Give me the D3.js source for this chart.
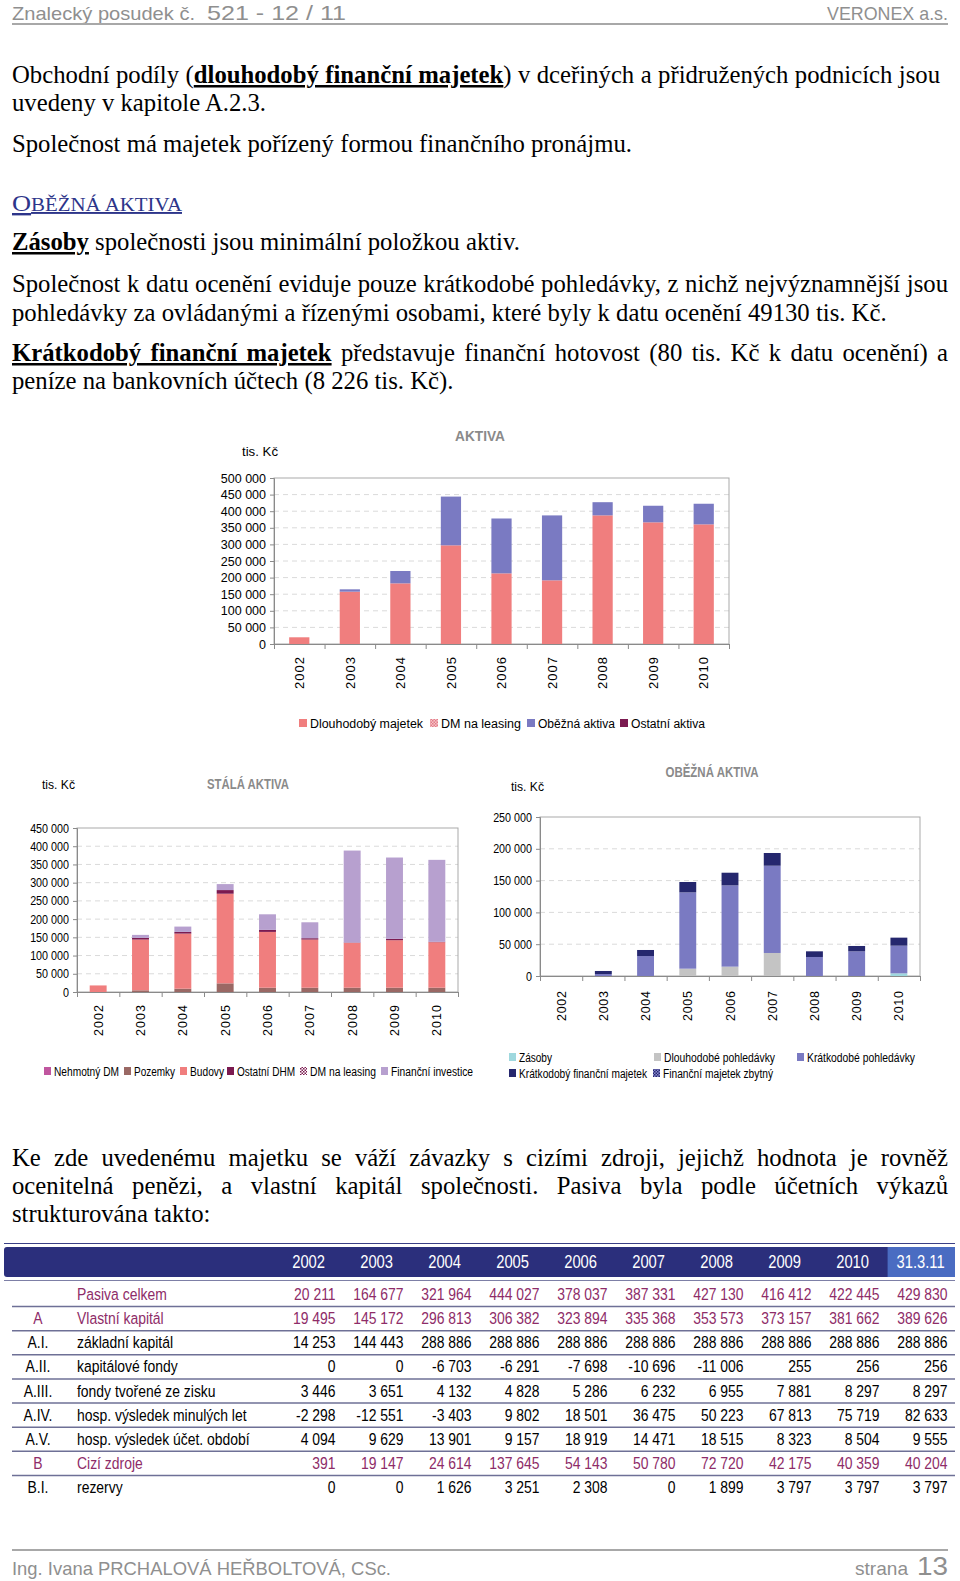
<!DOCTYPE html>
<html><head><meta charset="utf-8">
<script src="https://cdn.jsdelivr.net/npm/d3@7"></script>
<style>body{margin:0;background:#fff}svg{display:block}</style>
</head><body>
<svg id="page" width="960" height="1581"></svg>
<script>
// ---------------- DATA ----------------
const years = ["2002","2003","2004","2005","2006","2007","2008","2009","2010"];

// AKTIVA (tis. Kč)
const aktivaKeys = ["Dlouhodobý majetek","DM na leasing","Oběžná aktiva","Ostatní aktiva"];
const aktivaDlouhodobyMajetek = [20211,157600,182700,297200,212800,191800,387500,366500,360400];
const aktivaDMLeasing         = [0,0,0,0,0,0,0,0,0];
const aktivaObeznaAktiva      = [0,7077,37200,146827,165237,195531,39630,49912,62045];
const aktivaOstatniAktiva     = [0,0,0,0,0,0,0,0,0];
const aktivaTicks = [0,50000,100000,150000,200000,250000,300000,350000,400000,450000,500000];

// STÁLÁ AKTIVA
const stalaKeys = ["Nehmotný DM","Pozemky","Budovy","Ostatní DHM","DM na leasing","Finanční investice"];
const stalaNehmotnyDM   = [0,0,0,0,0,0,0,0,0];
const stalaPozemky      = [0,4600,9100,23700,11800,11800,11800,11800,11800];
const stalaBudovy       = [18000,139300,151200,246000,153100,132100,123000,130300,124900];
const stalaOstatniDHM   = [0,4600,4600,10000,5500,3700,1000,3700,1000];
const stalaDMLeasing    = [0,0,0,0,0,0,0,0,0];
const stalaFinInvestice = [0,8200,14600,16400,42800,43700,252300,223200,224900];
const stalaTicks = [0,50000,100000,150000,200000,250000,300000,350000,400000,450000];

// OBĚŽNÁ AKTIVA
const obeznaKeys = ["Zásoby","Dlouhodobé pohledávky","Krátkodobé pohledávky","Krátkodobý finanční majetek","Finanční majetek zbytný"];
const obeznaZasoby     = [0,0,0,0,0,0,0,0,4200];
const obeznaDlouhPohl  = [0,0,0,11500,14700,36200,0,0,0];
const obeznaKratkPohl  = [0,3100,31400,120000,127800,137200,29900,38800,43500];
const obeznaKFM        = [0,4800,9500,16300,19900,20000,8900,8400,12600];
const obeznaZbytny     = [0,0,0,0,0,0,0,0,0];
const obeznaTicks = [0,50000,100000,150000,200000,250000];

// PASIVA table
const tableCols = ["2002","2003","2004","2005","2006","2007","2008","2009","2010","31.3.11"];
const rowCodes  = ["","A","A.I.","A.II.","A.III.","A.IV.","A.V.","B","B.I."];
const rowLabels = ["Pasiva celkem","Vlastní kapitál","základní kapitál","kapitálové fondy","fondy tvořené ze zisku","hosp. výsledek minulých let","hosp. výsledek účet. období","Cizí zdroje","rezervy"];
const pasivaCelkem     = [20211,164677,321964,444027,378037,387331,427130,416412,422445,429830];
const vlastniKapital   = [19495,145172,296813,306382,323894,335368,353573,373157,381662,389626];
const zakladniKapital  = [14253,144443,288886,288886,288886,288886,288886,288886,288886,288886];
const kapitaloveFondy  = [0,0,-6703,-6291,-7698,-10696,-11006,255,256,256];
const fondyZeZisku     = [3446,3651,4132,4828,5286,6232,6955,7881,8297,8297];
const hvMinulychLet    = [-2298,-12551,-3403,9802,18501,36475,50223,67813,75719,82633];
const hvUcetObdobi     = [4094,9629,13901,9157,18919,14471,18515,8323,8504,9555];
const ciziZdroje       = [391,19147,24614,137645,54143,50780,72720,42175,40359,40204];
const rezervy          = [0,0,1626,3251,2308,0,1899,3797,3797,3797];
const highlightRows    = [true,true,false,false,false,false,false,true,false];

// ---------------- HELPERS ----------------
const SANS = "'Liberation Sans', Arial, sans-serif";
const SERIF = "'Liberation Serif', 'Times New Roman', serif";
const loc = d3.formatLocale({decimal:",", thousands:"\u00a0", grouping:[3], currency:["",""], minus:"-"});
const fmt = loc.format(",d");
const svg = d3.select("#page");
svg.append("rect").attr("width",960).attr("height",1581).attr("fill","#fff");

const defs = svg.append("defs");
function pat(id, bg, fg){
  const p = defs.append("pattern").attr("id",id).attr("width",3).attr("height",3).attr("patternUnits","userSpaceOnUse");
  p.append("rect").attr("width",3).attr("height",3).attr("fill",bg);
  p.append("rect").attr("width",1.5).attr("height",1.5).attr("fill",fg);
  p.append("rect").attr("x",1.5).attr("y",1.5).attr("width",1.5).attr("height",1.5).attr("fill",fg);
}
pat("patPink","#f6c4c8","#e27c88");
pat("patMaroon","#ffffff","#7b1a50");
pat("patNavy","#8a8ad0","#25276e");

function T(g, x, y, s, o={}){
  const t = g.append("text").attr("x",x).attr("y",y).text(s)
    .attr("font-family", o.family||SANS).attr("font-size", o.size||12)
    .attr("fill", o.fill||"#000").attr("text-anchor", o.anchor||"start");
  if(o.weight) t.attr("font-weight", o.weight);
  if(o.width) t.attr("textLength", o.width).attr("lengthAdjust", o.adjust||"spacingAndGlyphs");
  return t;
}
function NT(g, x, y, s, o={}){ // narrow text via horizontal scale
  return g.append("text").attr("transform",`translate(${x},${y}) scale(${o.sx||0.82},1)`).text(s)
    .attr("font-family", SANS).attr("font-size", o.size||17)
    .attr("fill", o.fill||"#000").attr("text-anchor", o.anchor||"start");
}

// ---------------- HEADER / FOOTER ----------------
const GREY = "#8f8f8f";
T(svg,12,20,"Znalecký posudek č.",{size:19,fill:GREY,width:183});
T(svg,207,20,"521 - 12 / 11",{size:21,fill:GREY,width:139});
T(svg,948,20,"VERONEX a.s.",{size:19,fill:GREY,anchor:"end",width:121});
svg.append("line").attr("x1",12).attr("x2",948).attr("y1",24).attr("y2",24).attr("stroke","#a8a8a8").attr("stroke-width",2);

svg.append("line").attr("x1",12).attr("x2",948).attr("y1",1550).attr("y2",1550).attr("stroke","#a8a8a8").attr("stroke-width",2);
T(svg,12,1575,"Ing. Ivana PRCHALOVÁ HEŘBOLTOVÁ, CSc.",{size:19,fill:GREY,width:379});
T(svg,855,1575,"strana",{size:19,fill:GREY,width:53});
T(svg,948,1575,"13",{size:25,fill:GREY,anchor:"end",width:31});

// ---------------- BODY TEXT ----------------
const BODY = 25;
let SX = 0.85;
{
  const probe = svg.append("text").attr("font-family",SERIF).attr("font-size",BODY)
    .text("Společnost má majetek pořízený formou finančního pronájmu.");
  SX = 620 / probe.node().getComputedTextLength();
  probe.remove();
}
function para(y, W, segs, justify){
  const t = svg.append("text").attr("transform",`translate(12,${y}) scale(${SX},1)`)
    .attr("font-family",SERIF).attr("font-size",BODY).attr("fill","#000");
  segs.forEach(([s,st])=>{
    const ts = t.append("tspan").text(s);
    if(st==="bu") ts.attr("font-weight","bold").attr("text-decoration","underline");
  });
  if(justify){
    const w0 = t.node().getComputedTextLength();
    const n = segs.map(d=>d[0]).join("").split(" ").length - 1;
    t.attr("word-spacing", (W/SX - w0)/n);
  }
  return t;
}
para(83,928,[["Obchodní podíly (",""],["dlouhodobý finanční majetek","bu"],[") v dceřiných a přidružených podnicích jsou",""]],true);
para(111,199,[["uvedeny v kapitole A.2.3.",""]]);
para(152,620,[["Společnost má majetek pořízený formou finančního pronájmu.",""]]);
{
  const t = svg.append("text").attr("x",12).attr("y",211).attr("font-family",SERIF).attr("fill","#2d358a")
    .attr("textLength",170).attr("lengthAdjust","spacingAndGlyphs").attr("text-decoration","underline");
  t.append("tspan").attr("font-size",24).text("O");
  t.append("tspan").attr("font-size",19).text("BĚŽNÁ AKTIVA");
}
para(250,509,[["Zásoby","bu"],[" společnosti jsou minimální položkou aktiv.",""]]);
para(292,936,[["Společnost k datu ocenění eviduje pouze krátkodobé pohledávky, z nichž nejvýznamnější jsou",""]],true);
para(321,882,[["pohledávky za ovládanými a řízenými osobami, které byly k datu ocenění 49130 tis. Kč.",""]]);
para(361,936,[["Krátkodobý finanční majetek","bu"],[" představuje finanční hotovost (80 tis. Kč k datu ocenění) a",""]],true);
para(389,441,[["peníze na bankovních účtech (8 226 tis. Kč).",""]]);
para(1166,936,[["Ke zde uvedenému majetku se váží závazky s cizími zdroji, jejichž hodnota je rovněž",""]],true);
para(1194,936,[["ocenitelná penězi, a vlastní kapitál společnosti. Pasiva byla podle účetních výkazů",""]],true);
para(1222,199,[["strukturována takto:",""]]);

// ---------------- CHARTS ----------------
function stackedChart(cfg){
  const {left,right,top,bottom} = cfg.box;
  const g = svg.append("g");
  const x = d3.scaleBand().domain(years).range([left,right]).paddingInner(0.6).paddingOuter(0.3);
  const y = d3.scaleLinear().domain([0,cfg.max]).range([bottom,top]);
  g.selectAll(".grid").data(cfg.ticks.filter(t=>t>0 && t<cfg.max)).join("line")
    .attr("x1",left).attr("x2",right).attr("y1",d=>y(d)).attr("y2",d=>y(d))
    .attr("stroke","#dadada").attr("stroke-dasharray","5,4");
  g.append("rect").attr("x",left).attr("y",top).attr("width",right-left).attr("height",bottom-top)
    .attr("fill","none").attr("stroke","#a9a9a9");
  const rows = years.map((yr,i)=>{const o={year:yr}; cfg.keys.forEach((k,j)=>o[k]=cfg.values[j][i]); return o;});
  const stacked = d3.stack().keys(cfg.keys)(rows);
  stacked.forEach((s,j)=>{
    g.append("g").attr("fill",cfg.fills[j]).selectAll("rect").data(s.filter(d=>d[1]-d[0]>0)).join("rect")
      .attr("x",d=>x(d.data.year)).attr("width",x.bandwidth())
      .attr("y",d=>y(d[1])).attr("height",d=>y(d[0])-y(d[1]));
  });
  const ya = g.append("g").attr("transform",`translate(${left},0)`)
    .call(d3.axisLeft(y).tickValues(cfg.ticks).tickFormat(fmt).tickSize(4).tickPadding(4));
  ya.select(".domain").attr("stroke","#8a8a8a");
  ya.selectAll(".tick line").attr("stroke","#8a8a8a");
  ya.selectAll("text").attr("font-family",SANS).attr("font-size",cfg.yFont).attr("fill","#000");
  if(cfg.yScale) ya.selectAll("text").each(function(){
    const w = this.getComputedTextLength();
    d3.select(this).attr("textLength", w*cfg.yScale).attr("lengthAdjust","spacingAndGlyphs");
  });
  const xi = d3.scaleLinear().domain([0,years.length]).range([left,right]);
  const xa = g.append("g").attr("transform",`translate(0,${bottom})`)
    .call(d3.axisBottom(xi).tickValues(d3.range(years.length+1)).tickFormat("").tickSize(5));
  xa.select(".domain").attr("stroke","#8a8a8a");
  xa.selectAll(".tick line").attr("stroke","#8a8a8a");
  g.selectAll(".xl").data(years).join("text")
    .attr("transform",d=>`translate(${x(d)+x.bandwidth()/2},${bottom+cfg.xGap}) rotate(-90)`)
    .attr("dy","0.36em").attr("text-anchor","end")
    .attr("font-family",SANS).attr("font-size",cfg.xFont).attr("fill","#000")
    .attr("textLength",cfg.xWidth).attr("lengthAdjust","spacing").text(d=>d);
  T(g,cfg.title.x,cfg.title.y,cfg.title.text,{size:cfg.title.size,weight:"bold",fill:"#8a8a8a",anchor:"middle",width:cfg.title.w});
  T(g,cfg.unit.x,cfg.unit.y,"tis. Kč",{size:13,fill:"#000",width:cfg.unit.w});
  cfg.legend.forEach(it=>{
    const j = cfg.keys.indexOf(it.key);
    g.append("rect").attr("x",it.x).attr("y",it.y-4).attr("width",it.s||8).attr("height",8).attr("fill",cfg.fills[j]);
    T(g,it.x+(it.s||8)+3,it.y+4.5,it.key,{size:cfg.legendFont,width:it.w});
  });
}

stackedChart({
  box:{left:274,right:729,top:478,bottom:644}, max:500000, ticks:aktivaTicks,
  keys:aktivaKeys, values:[aktivaDlouhodobyMajetek,aktivaDMLeasing,aktivaObeznaAktiva,aktivaOstatniAktiva],
  fills:["#f07e7e","url(#patPink)","#7a7ac2","#7b1a50"],
  yFont:12.5, xFont:13, xWidth:32, xGap:13,
  title:{x:480,y:441,text:"AKTIVA",size:14,w:50}, unit:{x:242,y:456,w:36},
  legendFont:12,
  legend:[{key:"Dlouhodobý majetek",x:299,y:723,w:113},{key:"DM na leasing",x:430,y:723,w:80},
          {key:"Oběžná aktiva",x:527,y:723,w:77},{key:"Ostatní aktiva",x:620,y:723,w:74}]
});

stackedChart({
  box:{left:77,right:458,top:828,bottom:992}, max:450000, ticks:stalaTicks,
  keys:stalaKeys, values:[stalaNehmotnyDM,stalaPozemky,stalaBudovy,stalaOstatniDHM,stalaDMLeasing,stalaFinInvestice],
  fills:["#c0569f","#9a6864","#f07e7e","#7b1a50","url(#patMaroon)","#b7a0cf"],
  yFont:12.5, yScale:0.86, xFont:12.5, xWidth:31, xGap:13,
  title:{x:248,y:789,text:"STÁLÁ AKTIVA",size:14,w:82}, unit:{x:42,y:789,w:33},
  legendFont:12,
  legend:[{key:"Nehmotný DM",x:44,y:1071,s:7,w:65},{key:"Pozemky",x:124,y:1071,s:7,w:41},
          {key:"Budovy",x:180,y:1071,s:7,w:34},{key:"Ostatní DHM",x:227,y:1071,s:7,w:58},
          {key:"DM na leasing",x:300,y:1071,s:7,w:66},{key:"Finanční investice",x:381,y:1071,s:7,w:82}]
});

stackedChart({
  box:{left:540,right:920,top:817,bottom:976}, max:250000, ticks:obeznaTicks,
  keys:obeznaKeys, values:[obeznaZasoby,obeznaDlouhPohl,obeznaKratkPohl,obeznaKFM,obeznaZbytny],
  fills:["#9fd8de","#c4c4c4","#7a7ac2","#25276e","url(#patNavy)"],
  yFont:12.5, yScale:0.86, xFont:12.5, xWidth:30, xGap:15,
  title:{x:712,y:777,text:"OBĚŽNÁ AKTIVA",size:14,w:93}, unit:{x:511,y:791,w:33},
  legendFont:12,
  legend:[{key:"Zásoby",x:509,y:1057,s:7,w:33},{key:"Dlouhodobé pohledávky",x:654,y:1057,s:7,w:111},
          {key:"Krátkodobé pohledávky",x:797,y:1057,s:7,w:108},
          {key:"Krátkodobý finanční majetek",x:509,y:1073,s:7,w:128},{key:"Finanční majetek zbytný",x:653,y:1073,s:7,w:110}]
});

// ---------------- TABLE ----------------
{
  const g = svg.append("g");
  const rowsData = [pasivaCelkem,vlastniKapital,zakladniKapital,kapitaloveFondy,fondyZeZisku,hvMinulychLet,hvUcetObdobi,ciziZdroje,rezervy];
  const cx = d3.scalePoint().domain(tableCols).range([308.6,920.6]);
  const ry = d3.scalePoint().domain(d3.range(rowLabels.length)).range([1294,1487]);
  const maroon = "#8e2c68";
  g.append("line").attr("x1",4).attr("x2",955).attr("y1",1243.5).attr("y2",1243.5).attr("stroke","#3a3f86").attr("stroke-width",1);
  g.append("rect").attr("x",4).attr("y",1247).attr("width",951).attr("height",30).attr("rx",3).attr("fill","#2b2f7c");
  g.append("rect").attr("x",cx("31.3.11")-33).attr("y",1247).attr("width",955-(cx("31.3.11")-33)).attr("height",30).attr("fill","#4a6cc2");
  g.append("line").attr("x1",4).attr("x2",955).attr("y1",1280.5).attr("y2",1280.5).attr("stroke","#7d7fa6").attr("stroke-width",1);
  tableCols.forEach(c=>NT(g,cx(c),1268,c,{fill:"#fff",anchor:"middle",size:18}));
  rowLabels.forEach((lab,i)=>{
    const y = ry(i), col = highlightRows[i] ? maroon : "#000";
    if(i<rowLabels.length-1)
      g.append("line").attr("x1",12).attr("x2",955).attr("y1",y+12.5).attr("y2",y+12.5).attr("stroke","#6e7096").attr("stroke-width",1.5);
    NT(g,38,y+6,rowCodes[i],{fill:col,anchor:"middle"});
    NT(g,77,y+6,lab,{fill:col});
    rowsData[i].forEach((v,k)=>NT(g,cx(tableCols[k])+27,y+6,fmt(v),{fill:col,anchor:"end"}));
  });
}
</script>
</body></html>
